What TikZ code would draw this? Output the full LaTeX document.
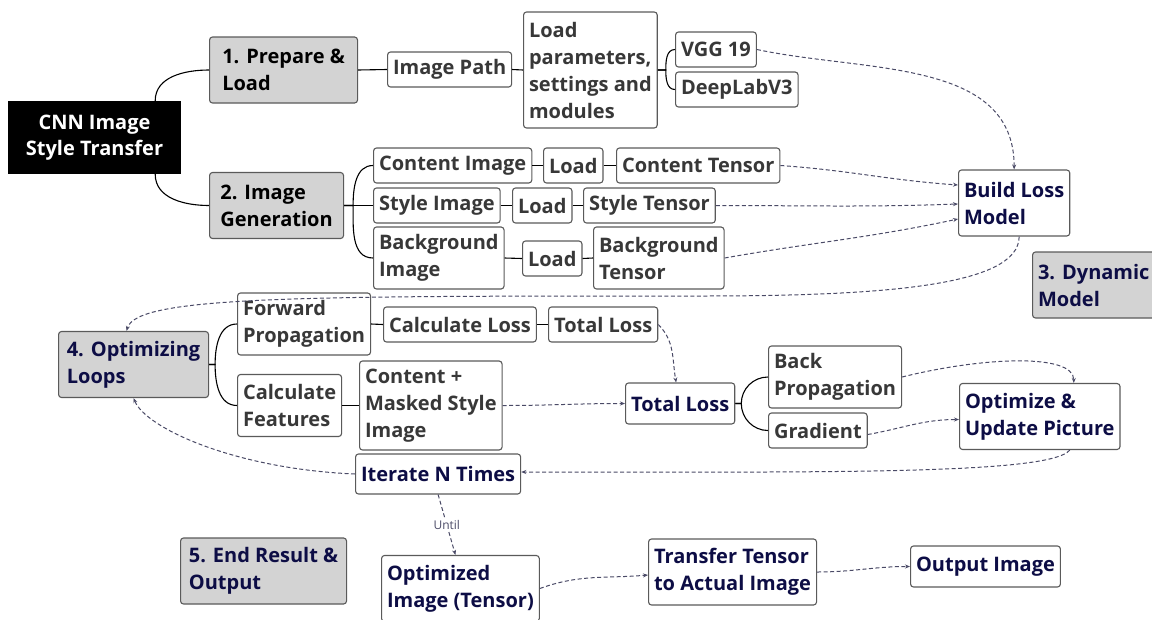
\documentclass[tikz,border=0pt]{standalone}
\usepackage{fontspec}
\setmainfont{Open Sans}
\usetikzlibrary{arrows.meta}
\definecolor{topicgray}{HTML}{D3D3D3}
\definecolor{boxborder}{HTML}{5A5A5A}
\definecolor{inktext}{HTML}{383838}
\definecolor{navytext}{HTML}{0D0D45}
\definecolor{flowgray}{HTML}{4A4A66}
\newcommand\mapfont{\fontsize{20}{27}\selectfont\bfseries}

\begin{document}
\begin{tikzpicture}[x=1pt, y=1pt,
  mapbox/.style={draw=boxborder, line width=1.1pt, rounded corners=3pt, fill=white,
    text=inktext, align=left, inner xsep=5.5pt, inner ysep=3pt, anchor=west, font=\mapfont},
  topic/.style={mapbox, fill=topicgray, text=black},
  navy/.style={text=navytext},
  one/.style={minimum height=35pt},
  two/.style={minimum height=66pt},
  rootbox/.style={fill=black, text=white, align=center, minimum width=173pt,
    minimum height=73pt, font=\mapfont},
  link/.style={line width=1.1pt, black},
  flow/.style={line width=1pt, draw=flowgray, dash pattern=on 4pt off 2.5pt,
    -{Stealth[length=5pt, width=4pt]}}]
  \useasboundingbox (0,0) rectangle (1152,-619);

  % --- Root and the five topics ---
  \node[rootbox] (root) at (94.5,-137.5) {\raisebox{-3pt}{\shortstack{CNN Image\\[3pt]Style Transfer}}};
  \node[topic, two, minimum width=148pt] (prep)  at (209,-70)     {1. Prepare \&\\Load};
  \node[topic, two, minimum width=134pt] (gen)   at (209,-205.5)  {2. Image\\Generation};
  \node[topic, two, navy] (dyn)   at (1032,-285)  {3. Dynamic\\Model};
  \node[topic, two, navy, minimum width=150pt] (loops) at (58,-364.5)  {4. Optimizing\\Loops};
  \node[topic, two, navy, minimum width=166pt] (final) at (180,-571)   {5. End Result \&\\Output};

  % --- 1. Prepare & Load ---
  \node[mapbox, one] (imgpath) at (387,-69.5) {Image Path};
  \node[mapbox, minimum height=116pt] (params) at (523,-70)
    {Load\\parameters,\\settings and\\modules};
  \node[mapbox, one] (vgg)     at (675,-49.5) {VGG 19};
  \node[mapbox, one] (deeplab) at (675,-89.5) {DeepLabV3};

  % --- 2. Image Generation ---
  \node[mapbox, one] (cimg)    at (373,-165.5) {Content Image};
  \node[mapbox, one] (cload)   at (543,-165.5) {Load};
  \node[mapbox, one] (ctensor) at (616,-165.5) {Content Tensor};
  \node[mapbox, one] (simg)    at (373,-205.5) {Style Image};
  \node[mapbox, one] (sload)   at (512,-205.5) {Load};
  \node[mapbox, one] (stensor) at (583,-205.5) {Style Tensor};
  \node[mapbox, minimum height=62pt] (bimg) at (373,-258) {Background\\Image};
  \node[mapbox, one] (bload)   at (522,-258.5) {Load};
  \node[mapbox, minimum height=62pt] (btensor) at (593,-258) {Background\\Tensor};

  % --- 3. Dynamic Model ---
  \node[mapbox, two, navy] (build) at (958,-203) {Build Loss\\Model};

  % --- 4. Optimizing Loops ---
  \node[mapbox, minimum height=62pt] (fwd) at (237,-324) {Forward\\Propagation};
  \node[mapbox, one] (calcloss) at (383,-324.5) {Calculate Loss};
  \node[mapbox, one] (tloss)    at (548,-324.5) {Total Loss};
  \node[mapbox, minimum height=62pt] (feat) at (237,-405.5) {Calculate\\Features};
  \node[mapbox, minimum height=89pt] (masked) at (359,-405.5)
    {Content +\\Masked Style\\Image};
  \node[mapbox, minimum height=41pt, navy] (total) at (625,-403.5) {Total Loss};
  \node[mapbox, minimum height=62pt] (backprop) at (768,-377) {Back\\Propagation};
  \node[mapbox, one] (grad) at (768,-430.5) {Gradient};
  \node[mapbox, two, navy] (update) at (959,-416.5) {Optimize \&\\Update Picture};
  \node[mapbox, minimum height=40pt, navy] (iterate) at (355,-474) {Iterate N Times};

  % --- 5. End Result & Output ---
  \node[mapbox, two, navy] (optimg)   at (381,-588.5) {Optimized\\Image (Tensor)};
  \node[mapbox, two, navy] (transfer) at (648,-572)   {Transfer Tensor\\to Actual Image};
  \node[mapbox, minimum height=41pt, navy] (outimg) at (910,-566.5) {Output Image};

  % --- Tree branches ---
  \draw[link] ([xshift=-26pt]root.north east) to[out=90, in=180] (prep.west);
  \draw[link] ([xshift=-26pt]root.south east) to[out=-90, in=180] (gen.west);
  \draw[link] (prep.east) -- (imgpath.west);
  \draw[link] (imgpath.east) -- (params.west);
  \draw[link] (params.east) -- ++(8,0) to[out=90, in=180] (vgg.west);
  \draw[link] (params.east) -- ++(8,0) to[out=-90, in=180] (deeplab.west);
  \draw[link] (gen.east) -- ++(9,0) to[out=90, in=180] (cimg.west);
  \draw[link] (gen.east) -- (simg.west);
  \draw[link] (gen.east) -- ++(9,0) to[out=-90, in=180] (bimg.west);
  \draw[link] (cimg.east) -- (cload.west);
  \draw[link] (cload.east) -- (ctensor.west);
  \draw[link] (simg.east) -- (sload.west);
  \draw[link] (sload.east) -- (stensor.west);
  \draw[link] (bimg.east) -- (bload.west);
  \draw[link] (bload.east) -- (btensor.west);
  \draw[link] (loops.east) -- ++(6,0) to[out=90, in=180] (fwd.west);
  \draw[link] (loops.east) -- ++(6,0) to[out=-90, in=180] (feat.west);
  \draw[link] (fwd.east) -- (calcloss.west);
  \draw[link] (calcloss.east) -- (tloss.west);
  \draw[link] (feat.east) -- (masked.west);
  \draw[link] (total.east) -- ++(6,0) to[out=90, in=180] (backprop.west);
  \draw[link] (total.east) -- ++(6,0) to[out=-90, in=180] (grad.west);

  % --- Data flow (dashed) ---
  \draw[flow] (vgg.east) to[out=-12, in=90] (build.north);
  \draw[flow] (ctensor.east) to[out=-4, in=176] ([yshift=18pt]build.west);
  \draw[flow] (stensor.east) to[out=0, in=182] ([yshift=-1pt]build.west);
  \draw[flow] (btensor.east) to[out=10, in=192] ([yshift=-16pt]build.west);
  \coordinate (sweep) at (700,-296);
  \draw[flow] ([xshift=5pt]build.south) .. controls +(0,-50) and +(180,0) .. (sweep)
    .. controls +(-400,0) and +(10,35) .. ([xshift=-7pt]loops.north);
  \draw[flow] (tloss.east) to[out=-45, in=100] ([xshift=-4pt]total.north);
  \draw[flow] (masked.east) to[out=0, in=180] (total.west);
  \draw[flow] (backprop.east) .. controls +(80,20) and +(0,30) .. ([xshift=34pt]update.north);
  \draw[flow] ([yshift=-4pt]grad.east) to[out=10, in=180] ([yshift=-3pt]update.west);
  \draw[flow] ([xshift=30pt]update.south) .. controls +(-20,-25) and +(300,0) .. ([yshift=2pt]iterate.east);
  \draw[flow] (iterate.west) .. controls +(-120,5) and +(12,-30) .. (loops.south);
  \draw[flow] (iterate.south) -- node[fill=white, inner sep=1.5pt, text=flowgray,
    font=\fontsize{12}{14}\selectfont] {Until} ([xshift=-5pt]optimg.north);
  \draw[flow] (optimg.east) to[out=20, in=185] ([yshift=-3pt]transfer.west);
  \draw[flow] (transfer.east) to[out=0, in=180] (outimg.west);
\end{tikzpicture}
\end{document}
